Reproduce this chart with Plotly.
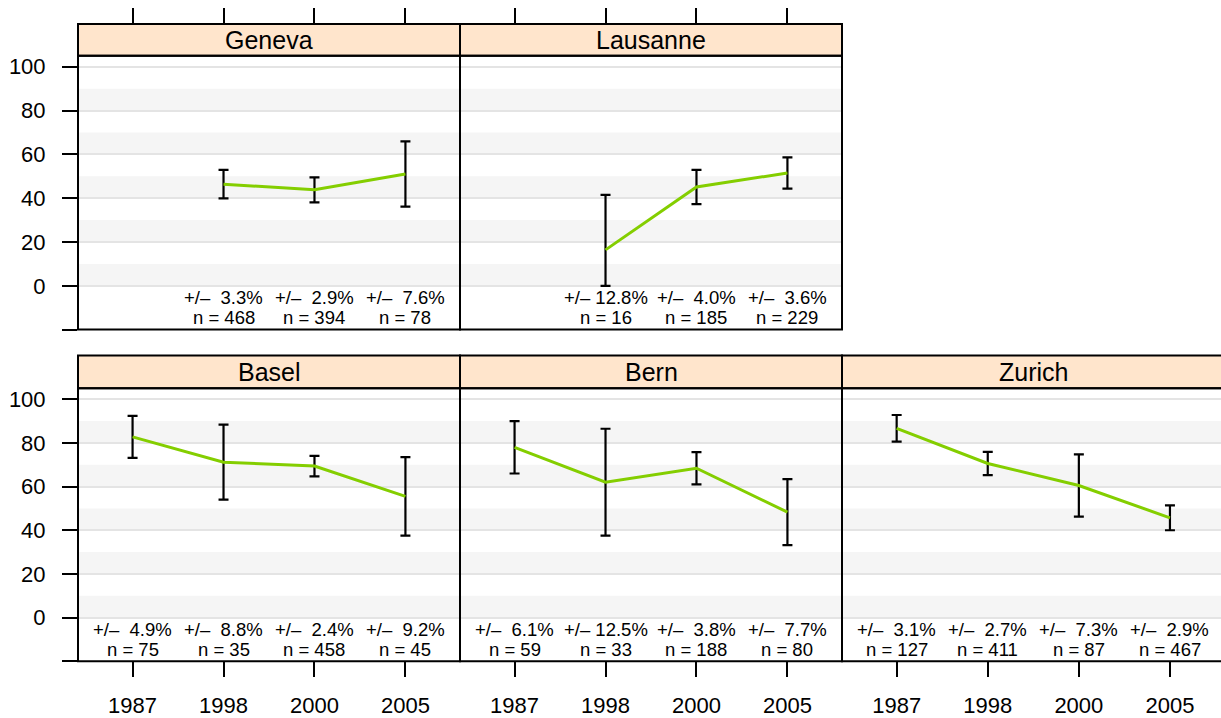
import plotly.graph_objects as go

W, H = 1221, 718

years = ["1987", "1998", "2000", "2005"]

cities = ["Geneva", "Lausanne", "Basel", "Bern", "Zurich"]

geneva_x = ["1998", "2000", "2005"]
geneva_pct = [46.4, 43.8, 51.0]
geneva_err = [6.5, 5.7, 14.9]
geneva_err_lo = [6.5, 5.7, 14.9]
geneva_se = ["3.3", "2.9", "7.6"]
geneva_n = [468, 394, 78]

lausanne_x = ["1998", "2000", "2005"]
lausanne_pct = [16.4, 45.1, 51.5]
lausanne_err = [25.1, 7.8, 7.1]
lausanne_err_lo = [16.4, 7.8, 7.1]
lausanne_se = ["12.8", "4.0", "3.6"]
lausanne_n = [16, 185, 229]

basel_x = ["1987", "1998", "2000", "2005"]
basel_pct = [82.8, 71.2, 69.4, 55.5]
basel_err = [9.6, 17.2, 4.7, 18.0]
basel_err_lo = [9.6, 17.2, 4.7, 18.0]
basel_se = ["4.9", "8.8", "2.4", "9.2"]
basel_n = [75, 35, 458, 45]

bern_x = ["1987", "1998", "2000", "2005"]
bern_pct = [78.0, 62.0, 68.4, 48.3]
bern_err = [12.0, 24.5, 7.4, 15.1]
bern_err_lo = [12.0, 24.5, 7.4, 15.1]
bern_se = ["6.1", "12.5", "3.8", "7.7"]
bern_n = [59, 33, 188, 80]

zurich_x = ["1987", "1998", "2000", "2005"]
zurich_pct = [86.7, 70.6, 60.5, 45.7]
zurich_err = [6.1, 5.3, 14.3, 5.7]
zurich_err_lo = [6.1, 5.3, 14.3, 5.7]
zurich_se = ["3.1", "2.7", "7.3", "2.9"]
zurich_n = [127, 411, 87, 467]

y_ticks = [-20, 0, 20, 40, 60, 80, 100]
y_ticktext = ["", "0", "20", "40", "60", "80", "100"]
band_edges = [(0, 10), (20, 30), (40, 50), (60, 70), (80, 90)]

panels = [
    dict(name="Geneva", x=geneva_x, y=geneva_pct, e=geneva_err, el=geneva_err_lo, se=geneva_se, n=geneva_n, col=0, row=0),
    dict(name="Lausanne", x=lausanne_x, y=lausanne_pct, e=lausanne_err, el=lausanne_err_lo, se=lausanne_se, n=lausanne_n, col=1, row=0),
    dict(name="Basel", x=basel_x, y=basel_pct, e=basel_err, el=basel_err_lo, se=basel_se, n=basel_n, col=0, row=1),
    dict(name="Bern", x=bern_x, y=bern_pct, e=bern_err, el=bern_err_lo, se=bern_se, n=bern_n, col=1, row=1),
    dict(name="Zurich", x=zurich_x, y=zurich_pct, e=zurich_err, el=zurich_err_lo, se=zurich_se, n=zurich_n, col=2, row=1),
]

# pixel layout
col_px = [(78, 460), (460, 842), (842, 1224.6)]
row_px = [(55, 330), (389, 663)]   # panel top, bottom
strip_px = [(23, 55), (356, 389)]

def px(xp):
    return xp / W

def py(yp):
    return 1 - yp / H

GREEN = "#84CE00"
FONT = "Liberation Sans, Arial, sans-serif"

fig = go.Figure()
shapes = []
annotations = []
layout = {}

for i, p in enumerate(panels):
    k = i + 1
    xa = "xaxis" if k == 1 else f"xaxis{k}"
    ya = "yaxis" if k == 1 else f"yaxis{k}"
    xr = "x" if k == 1 else f"x{k}"
    yr = "y" if k == 1 else f"y{k}"
    c0, c1 = col_px[p["col"]]
    r0, r1 = row_px[p["row"]]
    s0, s1 = strip_px[p["row"]]
    c1_vis = min(c1, W)
    xmax = 3.6 - (c1 - c1_vis) / 91.0
    xdom = [px(c0), px(c1_vis)]
    ydom = [py(r1), py(r0)]

    xaxis = dict(
        domain=xdom, type="category", categoryarray=years, categoryorder="array",
        range=[-0.6, xmax], showgrid=False, zeroline=False, showline=False,
        ticks="outside", ticklen=15, tickwidth=2, tickcolor="black",
        tickfont=dict(size=22, color="black", family=FONT),
        tickvals=years, ticktext=years, fixedrange=True,
    )
    if p["row"] == 0:
        xaxis.update(anchor="free", position=py(s0), side="top", showticklabels=False, ticklen=16)
    else:
        xaxis.update(anchor=yr, side="bottom", showticklabels=True, ticklabelstandoff=9)
    yaxis = dict(
        domain=ydom, anchor=xr, range=[-20, 105], showgrid=True, gridcolor="#e4e4e4",
        gridwidth=1.6, zeroline=False, showline=False, tickvals=y_ticks,
        ticktext=y_ticktext, fixedrange=True,
        tickfont=dict(size=22, color="black", family=FONT),
    )
    if p["col"] == 0:
        yaxis.update(ticks="outside", ticklen=15, tickwidth=2, tickcolor="black",
                     showticklabels=True, ticklabelstandoff=12)
    else:
        yaxis.update(ticks="", showticklabels=False)
    layout[xa] = xaxis
    layout[ya] = yaxis

    for b0, b1 in band_edges:
        shapes.append(dict(type="rect", xref=f"{xr} domain", yref=yr, x0=0, x1=1,
                           y0=b0, y1=b1, fillcolor="#f5f5f5", line=dict(width=0),
                           layer="below"))

    fig.add_trace(go.Scatter(
        x=p["x"], y=p["y"], xaxis=xr, yaxis=yr, mode="lines",
        line=dict(color=GREEN, width=3),
        error_y=dict(type="data", array=p["e"], arrayminus=p["el"], symmetric=False,
                     color="black", thickness=2.2, width=5),
        showlegend=False, hoverinfo="skip",
    ))

    for xv, se, n in zip(p["x"], p["se"], p["n"]):
        xi = years.index(xv)
        pad = "\u00a0" * (2 if len(se) == 3 else 1)
        annotations.append(dict(x=xi, y=-5.5, xref=xr, yref=yr, text=f"+/\u2013{pad}{se}%",
                                showarrow=False, font=dict(size=18.5, color="black", family=FONT),
                                xanchor="center", yanchor="middle"))
        annotations.append(dict(x=xi, y=-14.6, xref=xr, yref=yr, text=f"n = {n}",
                                showarrow=False, font=dict(size=18.5, color="black", family=FONT),
                                xanchor="center", yanchor="middle"))

    shapes.append(dict(type="rect", xref="paper", yref="paper", x0=px(c0), x1=px(c1),
                       y0=py(s1), y1=py(s0), fillcolor="#ffe5cc",
                       line=dict(color="black", width=2), layer="above"))
    annotations.append(dict(x=(px(c0) + px(c1)) / 2, y=py((s0 + s1) / 2),
                            xref="paper", yref="paper", text=p["name"], showarrow=False,
                            font=dict(size=25, color="black", family=FONT),
                            xanchor="center", yanchor="middle"))
    shapes.append(dict(type="rect", xref="paper", yref="paper", x0=px(c0), x1=px(c1),
                       y0=py(r1), y1=py(r0), fillcolor="rgba(0,0,0,0)",
                       line=dict(color="black", width=2), layer="above"))

fig.update_layout(
    width=W, height=H, margin=dict(l=0, r=0, t=0, b=0),
    paper_bgcolor="white", plot_bgcolor="white",
    shapes=shapes, annotations=annotations, showlegend=False,
    font=dict(family=FONT, color="black"),
    **layout,
)

fig.write_html("out.html", config={"displayModeBar": False},
               post_script="document.body.style.margin='0';document.body.style.padding='0';")
